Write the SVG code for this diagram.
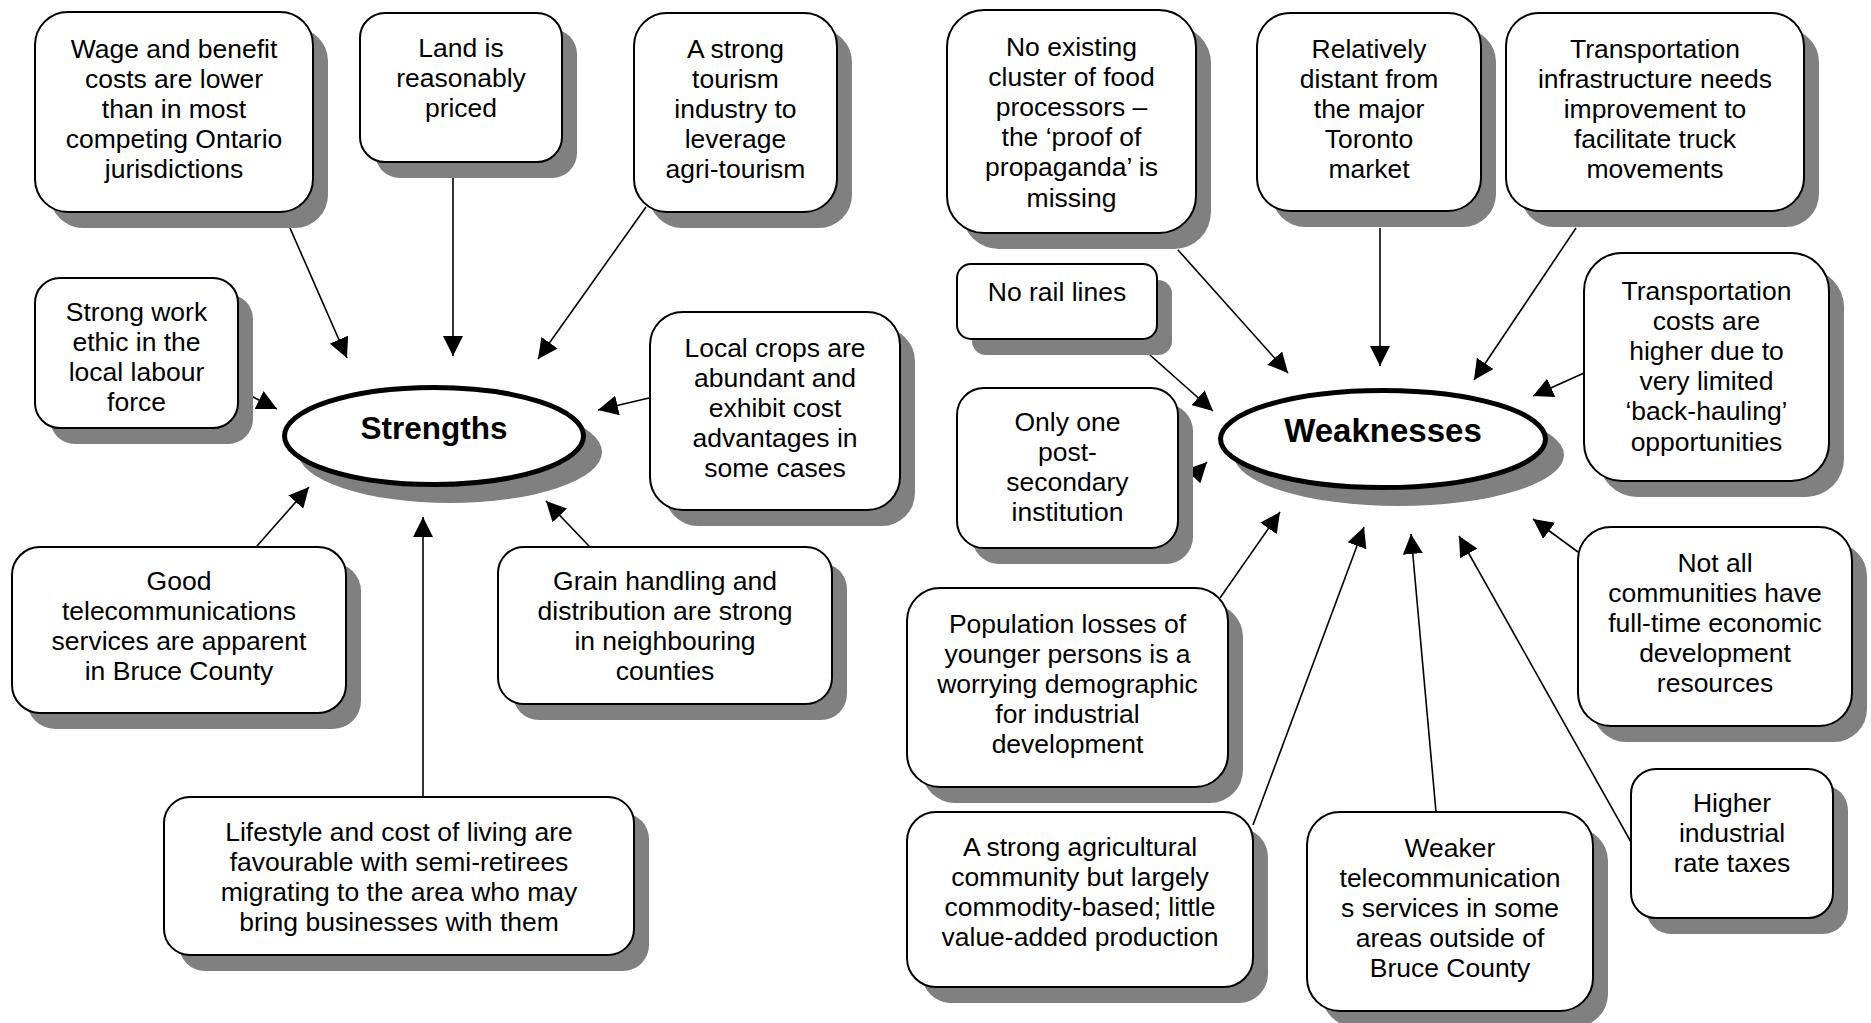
<svg xmlns="http://www.w3.org/2000/svg" width="1871" height="1023" viewBox="0 0 1871 1023">
<style>
.sh{fill:#808080}
.bx{fill:#fff;stroke:#000;stroke-width:2}
.el{fill:#fff;stroke:#000;stroke-width:5}
.t{font-family:"Liberation Sans",Arial,sans-serif;font-size:26.5px;text-anchor:middle;fill:#000}
.lb{font-family:"Liberation Sans",Arial,sans-serif;font-weight:bold;text-anchor:middle;fill:#000}
.cn line{stroke:#000;stroke-width:1.6;marker-end:url(#ah)}
</style>
<defs>
<marker id="ah" viewBox="0 0 20 20" refX="20" refY="10" markerWidth="20" markerHeight="20" markerUnits="userSpaceOnUse" orient="auto">
<path d="M0,0 L20,10 L0,20 z" fill="#000"/>
</marker>
</defs>
<rect width="1871" height="1023" fill="#fff"/>
<g id="connectors" class="cn">
<line x1="290" y1="228" x2="347" y2="358"/>
<line x1="453" y1="178" x2="453" y2="356"/>
<line x1="646" y1="207" x2="538" y2="359"/>
<line x1="237" y1="389" x2="277" y2="409"/>
<line x1="649" y1="398" x2="598" y2="410"/>
<line x1="257" y1="546" x2="309" y2="487"/>
<line x1="423" y1="797" x2="423" y2="517"/>
<line x1="589" y1="546" x2="546" y2="501"/>
<line x1="1178" y1="250" x2="1288" y2="373"/>
<line x1="1380" y1="228" x2="1380" y2="366"/>
<line x1="1576" y1="228" x2="1474" y2="380"/>
<line x1="1150" y1="355" x2="1213" y2="411"/>
<line x1="1180" y1="490" x2="1207" y2="462"/>
<line x1="1584" y1="373" x2="1533" y2="396"/>
<line x1="1220" y1="598" x2="1280" y2="512"/>
<line x1="1253" y1="825" x2="1364" y2="527"/>
<line x1="1436" y1="812" x2="1411" y2="534"/>
<line x1="1631" y1="842" x2="1459" y2="536"/>
<line x1="1578" y1="552" x2="1533" y2="519"/>
</g>
<g id="strengths">
<ellipse class="sh" cx="450" cy="452" rx="152" ry="51"/>
<ellipse class="el" cx="434" cy="436" rx="149.5" ry="48.5"/>
<text class="lb" x="434" y="439" font-size="31.5">Strengths</text>
</g>
<g id="weaknesses">
<ellipse class="sh" cx="1399" cy="455" rx="165" ry="51"/>
<ellipse class="el" cx="1383" cy="439" rx="162.5" ry="48.5"/>
<text class="lb" x="1383" y="442" font-size="33">Weaknesses</text>
</g>
<g id="s-wage">
<rect class="sh" x="50" y="28" width="278" height="200" rx="33"/>
<rect class="bx" x="35" y="12" width="278" height="200" rx="33"/>
<text class="t" y="58"><tspan x="174">Wage and benefit</tspan><tspan x="174" dy="30.1">costs are lower</tspan><tspan x="174" dy="30.1">than in most</tspan><tspan x="174" dy="30.1">competing Ontario</tspan><tspan x="174" dy="30.1">jurisdictions</tspan></text>
</g>
<g id="s-land">
<rect class="sh" x="375" y="29" width="202" height="149" rx="25"/>
<rect class="bx" x="360" y="13" width="202" height="149" rx="25"/>
<text class="t" y="56.5"><tspan x="461">Land is</tspan><tspan x="461" dy="30.1">reasonably</tspan><tspan x="461" dy="30.1">priced</tspan></text>
</g>
<g id="s-tourism">
<rect class="sh" x="649" y="29" width="203" height="199" rx="33"/>
<rect class="bx" x="634" y="13" width="203" height="199" rx="33"/>
<text class="t" y="58"><tspan x="735.5">A strong</tspan><tspan x="735.5" dy="30.1">tourism</tspan><tspan x="735.5" dy="30.1">industry to</tspan><tspan x="735.5" dy="30.1">leverage</tspan><tspan x="735.5" dy="30.1">agri-tourism</tspan></text>
</g>
<g id="s-work">
<rect class="sh" x="50" y="294" width="203" height="150" rx="25"/>
<rect class="bx" x="35" y="278" width="203" height="150" rx="25"/>
<text class="t" y="320.5"><tspan x="136.5">Strong work</tspan><tspan x="136.5" dy="30.1">ethic in the</tspan><tspan x="136.5" dy="30.1">local labour</tspan><tspan x="136.5" dy="30.1">force</tspan></text>
</g>
<g id="s-crops">
<rect class="sh" x="665" y="328" width="250" height="198" rx="33"/>
<rect class="bx" x="650" y="312" width="250" height="198" rx="33"/>
<text class="t" y="356.5"><tspan x="775">Local crops are</tspan><tspan x="775" dy="30.1">abundant and</tspan><tspan x="775" dy="30.1">exhibit cost</tspan><tspan x="775" dy="30.1">advantages in</tspan><tspan x="775" dy="30.1">some cases</tspan></text>
</g>
<g id="s-telecom">
<rect class="sh" x="27" y="563" width="334" height="166" rx="28"/>
<rect class="bx" x="12" y="547" width="334" height="166" rx="28"/>
<text class="t" y="589.5"><tspan x="179">Good</tspan><tspan x="179" dy="30.1">telecommunications</tspan><tspan x="179" dy="30.1">services are apparent</tspan><tspan x="179" dy="30.1">in Bruce County</tspan></text>
</g>
<g id="s-grain">
<rect class="sh" x="513" y="563" width="334" height="157" rx="26"/>
<rect class="bx" x="498" y="547" width="334" height="157" rx="26"/>
<text class="t" y="589.5"><tspan x="665">Grain handling and</tspan><tspan x="665" dy="30.1">distribution are strong</tspan><tspan x="665" dy="30.1">in neighbouring</tspan><tspan x="665" dy="30.1">counties</tspan></text>
</g>
<g id="s-lifestyle">
<rect class="sh" x="179" y="813" width="470" height="158" rx="26"/>
<rect class="bx" x="164" y="797" width="470" height="158" rx="26"/>
<text class="t" y="841"><tspan x="399">Lifestyle and cost of living are</tspan><tspan x="399" dy="30.1">favourable with semi-retirees</tspan><tspan x="399" dy="30.1">migrating to the area who may</tspan><tspan x="399" dy="30.1">bring businesses with them</tspan></text>
</g>
<g id="w-cluster">
<rect class="sh" x="962" y="26" width="249" height="223" rx="37"/>
<rect class="bx" x="947" y="10" width="249" height="223" rx="37"/>
<text class="t" y="56"><tspan x="1071.5">No existing</tspan><tspan x="1071.5" dy="30.1">cluster of food</tspan><tspan x="1071.5" dy="30.1">processors –</tspan><tspan x="1071.5" dy="30.1">the ‘proof of</tspan><tspan x="1071.5" dy="30.1">propaganda’ is</tspan><tspan x="1071.5" dy="30.1">missing</tspan></text>
</g>
<g id="w-distant">
<rect class="sh" x="1272" y="29" width="224" height="198" rx="33"/>
<rect class="bx" x="1257" y="13" width="224" height="198" rx="33"/>
<text class="t" y="57.5"><tspan x="1369">Relatively</tspan><tspan x="1369" dy="30.1">distant from</tspan><tspan x="1369" dy="30.1">the major</tspan><tspan x="1369" dy="30.1">Toronto</tspan><tspan x="1369" dy="30.1">market</tspan></text>
</g>
<g id="w-infra">
<rect class="sh" x="1521" y="29" width="298" height="198" rx="33"/>
<rect class="bx" x="1506" y="13" width="298" height="198" rx="33"/>
<text class="t" y="57.5"><tspan x="1655">Transportation</tspan><tspan x="1655" dy="30.1">infrastructure needs</tspan><tspan x="1655" dy="30.1">improvement to</tspan><tspan x="1655" dy="30.1">facilitate truck</tspan><tspan x="1655" dy="30.1">movements</tspan></text>
</g>
<g id="w-rail">
<rect class="sh" x="972" y="280" width="200" height="75" rx="14"/>
<rect class="bx" x="957" y="264" width="200" height="75" rx="14"/>
<text class="t" x="1057" y="301">No rail lines</text>
</g>
<g id="w-postsec">
<rect class="sh" x="972" y="404" width="221" height="160" rx="27"/>
<rect class="bx" x="957" y="388" width="221" height="160" rx="27"/>
<text class="t" y="431"><tspan x="1067.5">Only one</tspan><tspan x="1067.5" dy="30.1">post-</tspan><tspan x="1067.5" dy="30.1">secondary</tspan><tspan x="1067.5" dy="30.1">institution</tspan></text>
</g>
<g id="w-costs">
<rect class="sh" x="1599" y="269" width="245" height="228" rx="38"/>
<rect class="bx" x="1584" y="253" width="245" height="228" rx="38"/>
<text class="t" y="300"><tspan x="1706.5">Transportation</tspan><tspan x="1706.5" dy="30.1">costs are</tspan><tspan x="1706.5" dy="30.1">higher due to</tspan><tspan x="1706.5" dy="30.1">very limited</tspan><tspan x="1706.5" dy="30.1">‘back-hauling’</tspan><tspan x="1706.5" dy="30.1">opportunities</tspan></text>
</g>
<g id="w-population">
<rect class="sh" x="922" y="604" width="321" height="199" rx="33"/>
<rect class="bx" x="907" y="588" width="321" height="199" rx="33"/>
<text class="t" y="632.5"><tspan x="1067.5">Population losses of</tspan><tspan x="1067.5" dy="30.1">younger persons is a</tspan><tspan x="1067.5" dy="30.1">worrying demographic</tspan><tspan x="1067.5" dy="30.1">for industrial</tspan><tspan x="1067.5" dy="30.1">development</tspan></text>
</g>
<g id="w-communities">
<rect class="sh" x="1593" y="543" width="274" height="199" rx="33"/>
<rect class="bx" x="1578" y="527" width="274" height="199" rx="33"/>
<text class="t" y="571.5"><tspan x="1715">Not all</tspan><tspan x="1715" dy="30.1">communities have</tspan><tspan x="1715" dy="30.1">full-time economic</tspan><tspan x="1715" dy="30.1">development</tspan><tspan x="1715" dy="30.1">resources</tspan></text>
</g>
<g id="w-agri">
<rect class="sh" x="922" y="828" width="346" height="175" rx="29"/>
<rect class="bx" x="907" y="812" width="346" height="175" rx="29"/>
<text class="t" y="855.5"><tspan x="1080">A strong agricultural</tspan><tspan x="1080" dy="30.1">community but largely</tspan><tspan x="1080" dy="30.1">commodity-based; little</tspan><tspan x="1080" dy="30.1">value-added production</tspan></text>
</g>
<g id="w-telecom">
<rect class="sh" x="1322" y="828" width="286" height="199" rx="33"/>
<rect class="bx" x="1307" y="812" width="286" height="199" rx="33"/>
<text class="t" y="856.5"><tspan x="1450">Weaker</tspan><tspan x="1450" dy="30.1">telecommunication</tspan><tspan x="1450" dy="30.1">s services in some</tspan><tspan x="1450" dy="30.1">areas outside of</tspan><tspan x="1450" dy="30.1">Bruce County</tspan></text>
</g>
<g id="w-taxes">
<rect class="sh" x="1646" y="785" width="202" height="149" rx="25"/>
<rect class="bx" x="1631" y="769" width="202" height="149" rx="25"/>
<text class="t" y="811.5"><tspan x="1732">Higher</tspan><tspan x="1732" dy="30.1">industrial</tspan><tspan x="1732" dy="30.1">rate taxes</tspan></text>
</g>
</svg>
